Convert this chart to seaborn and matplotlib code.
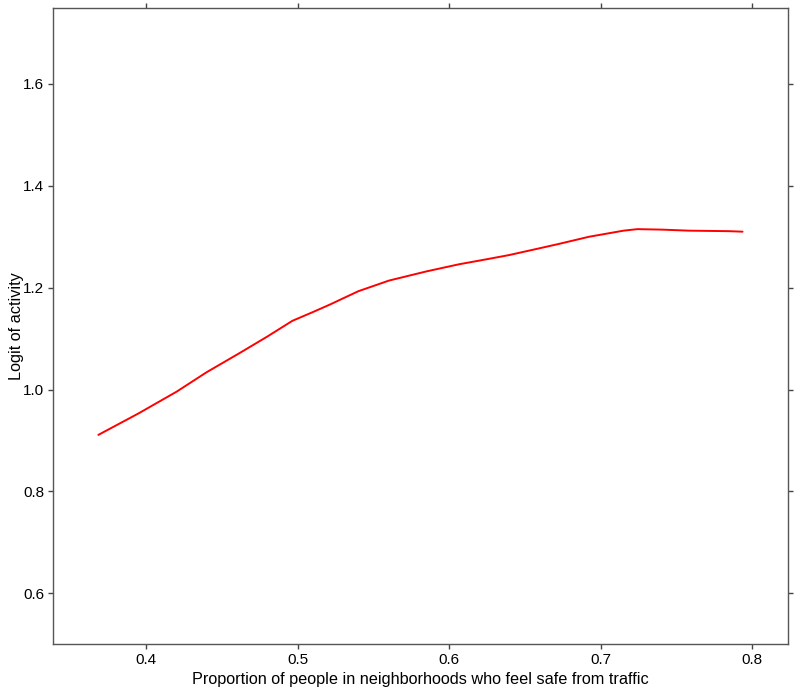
import pandas as pd
import seaborn as sns
import matplotlib.pyplot as plt

# Values
safe_traffic = [0.3686, 0.3950, 0.4203, 0.4400, 0.4614, 0.4800, 0.4966, 0.5100, 0.5214,
                0.5400, 0.5603, 0.5850, 0.6065, 0.6250, 0.6394, 0.6560, 0.6724, 0.6922,
                0.7055, 0.7150, 0.7242, 0.7407, 0.7583, 0.7847, 0.7935]
logit_activity = [0.911, 0.953, 0.996, 1.034, 1.071, 1.104, 1.135, 1.152, 1.167,
                  1.193, 1.214, 1.232, 1.246, 1.256, 1.264, 1.275, 1.286, 1.300,
                  1.307, 1.312, 1.315, 1.314, 1.312, 1.311, 1.310]

df = pd.DataFrame({'x': safe_traffic, 'y': logit_activity})

sns.set_style('ticks')
plt.rcParams['font.family'] = ['Liberation Sans', 'DejaVu Sans']

fig = plt.figure(figsize=(7.97, 6.92), dpi=100)
ax = fig.add_axes([0.0669, 0.0698, 0.9222, 0.9182])

sns.lineplot(data=df, x='x', y='y', color='#ff0000', linewidth=1.4, ax=ax)

ax.set_xlim(0.3389, 0.8237)
ax.set_ylim(0.501, 1.7486)
ax.set_xticks([0.4, 0.5, 0.6, 0.7, 0.8])
ax.set_yticks([0.6, 0.8, 1.0, 1.2, 1.4, 1.6])
ax.tick_params(axis='both', direction='out', length=3.6, width=1, color='#444444',
               labelsize=11, labelcolor='black', pad=3,
               top=True, right=True, labeltop=False, labelright=False)
for s in ax.spines.values():
    s.set_visible(True)
    s.set_color('#555555')
    s.set_linewidth(1)

ax.set_xlabel('Proportion of people in neighborhoods who feel safe from traffic',
              fontsize=11.7, color='black', labelpad=4)
ax.set_ylabel('Logit of activity', fontsize=11.7, color='black', labelpad=-1)

fig.savefig('out.png', dpi=100)
